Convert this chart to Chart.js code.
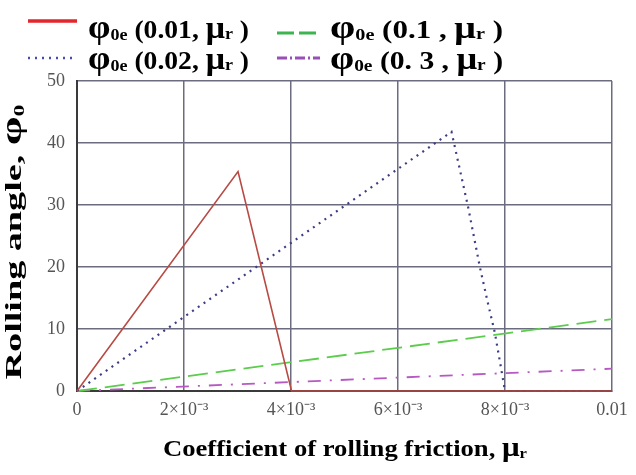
<!DOCTYPE html>
<html>
<head>
<meta charset="utf-8">
<script src="https://cdn.jsdelivr.net/npm/chart.js@4/dist/chart.umd.min.js"></script>
<style>
  html, body { margin: 0; padding: 0; background: #fff; }
  #wrap { width: 636px; height: 475px; position: relative; }
</style>
</head>
<body>
<div id="wrap"><canvas id="chart"></canvas></div>
<script>
// coefficient of rolling friction (x) and rolling angle (y) per curve
const mu001 = [0, 0.00301, 0.00401, 0.01];
const phi001 = [0, 35.4, 0, 0];

const mu002 = [0, 0.0070, 0.0072, 0.00731, 0.00753, 0.00768, 0.00781, 0.00791, 0.0080, 0.01];
const phi002 = [0, 41.8, 34.0, 29.7, 20.0, 14.2, 9.4, 4.5, 0, 0];

const mu01 = [0, 0.01];
const phi01 = [0, 11.6];

const mu03 = [0, 0.01];
const phi03 = [0, 3.6];

const xTicks = [0, 0.002, 0.004, 0.006, 0.008, 0.01];
const xTickLabels = ['0', '2×10⁻³', '4×10⁻³', '6×10⁻³', '8×10⁻³', '0.01'];
const yTicks = [0, 10, 20, 30, 40, 50];

const legendParams = ['0.01, ', '0.1 , ', '0.02, ', '0. 3 , '];

const SERIF = '"Liberation Serif", "Times New Roman", serif';

function pts(xs, ys) {
    return xs.map((x, i) => ({ x: x, y: ys[i] }));
}

// writes a run of text pieces (with subscripts) left to right
function drawRich(ctx, parts, x, y, sx) {
    ctx.save();
    ctx.translate(x, y);
    ctx.scale(sx, 1);
    ctx.textBaseline = 'alphabetic';
    ctx.textAlign = 'left';
    let cx = 0;
    for (const p of parts) {
        ctx.font = 'bold ' + p.size + 'px ' + SERIF;
        ctx.fillText(p.text, cx, p.dy || 0);
        cx += ctx.measureText(p.text).width;
    }
    ctx.restore();
}

function richWidth(ctx, parts) {
    let w = 0;
    for (const p of parts) {
        ctx.font = 'bold ' + p.size + 'px ' + SERIF;
        w += ctx.measureText(p.text).width;
    }
    return w;
}

function legendParts(param) {
    return [
        { text: 'φ', size: 34 },
        { text: '0e', size: 17, dy: 2 },
        { text: ' (' + param, size: 26 },
        { text: 'μ', size: 32 },
        { text: 'r', size: 17, dy: 1 },
        { text: ' )', size: 26 }
    ];
}

const titlesPlugin = {
    id: 'titles',
    afterDraw(chart) {
        const ctx = chart.ctx;
        ctx.save();
        ctx.fillStyle = '#000';

        // legend: sample line + label, two rows of two
        const entries = [
            { x0: 28, x1: 77, y: 21, color: '#e3262b', width: 3.5, dash: [], tx: 88, ty: 38, tw: 161 },
            { x0: 277, x1: 317, y: 33, color: '#3db44f', width: 3, dash: [17, 5], tx: 330, ty: 38, tw: 173 },
            { x0: 28, x1: 77, y: 58, color: '#4a4ab0', width: 2.5, dash: [2, 5], tx: 88, ty: 69, tw: 161 },
            { x0: 277, x1: 320, y: 58, color: '#9a4fb8', width: 3, dash: [10, 3, 2, 3], tx: 330, ty: 69, tw: 173 }
        ];
        entries.forEach((s, i) => {
            ctx.save();
            ctx.strokeStyle = s.color;
            ctx.lineWidth = s.width;
            ctx.setLineDash(s.dash);
            ctx.beginPath();
            ctx.moveTo(s.x0, s.y);
            ctx.lineTo(s.x1, s.y);
            ctx.stroke();
            ctx.restore();
            const parts = legendParts(legendParams[i]);
            drawRich(ctx, parts, s.tx, s.ty, s.tw / richWidth(ctx, parts));
        });

        // y axis title
        const yParts = [
            { text: 'Rolling angle, ', size: 24 },
            { text: 'φ', size: 29 },
            { text: '0', size: 15, dy: 3 }
        ];
        const yw = richWidth(ctx, yParts);
        const ysx = 275 / yw;
        ctx.save();
        ctx.translate(21, 242);
        ctx.rotate(-Math.PI / 2);
        drawRich(ctx, yParts, -yw * ysx / 2, 0, ysx);
        ctx.restore();

        // x axis title
        const xParts = [
            { text: 'Coefficient of rolling friction, ', size: 24 },
            { text: 'μ', size: 28 },
            { text: 'r', size: 15, dy: 2 }
        ];
        const xw = richWidth(ctx, xParts);
        const xsx = 364 / xw;
        drawRich(ctx, xParts, 345 - xw * xsx / 2, 456, xsx);

        ctx.restore();
    }
};

new Chart(document.getElementById('chart'), {
    type: 'line',
    data: {
        datasets: [
            {
                label: 'φ0e(0.01, μr)',
                data: pts(mu001, phi001),
                borderColor: '#b84a44',
                borderWidth: 1.6,
                pointRadius: 0,
                tension: 0,
                clip: 4
            },
            {
                label: 'φ0e(0.02, μr)',
                data: pts(mu002, phi002),
                borderColor: '#3d3d86',
                borderWidth: 2.2,
                borderDash: [2, 5],
                pointRadius: 0,
                tension: 0,
                clip: 4
            },
            {
                label: 'φ0e(0.1, μr)',
                data: pts(mu01, phi01),
                borderColor: '#5ccc4c',
                borderWidth: 1.8,
                borderDash: [20, 8],
                pointRadius: 0,
                tension: 0,
                clip: 4
            },
            {
                label: 'φ0e(0.3, μr)',
                data: pts(mu03, phi03),
                borderColor: '#b65ac2',
                borderWidth: 1.8,
                borderDash: [13, 9, 2, 9],
                pointRadius: 0,
                tension: 0,
                clip: 4
            }
        ]
    },
    options: {
        responsive: true,
        maintainAspectRatio: false,
        animation: false,
        layout: { padding: { left: 0, top: 81, right: 24, bottom: 0 } },
        plugins: {
            legend: { display: false },
            tooltip: { enabled: false }
        },
        scales: {
            x: {
                type: 'linear',
                min: 0,
                max: 0.01,
                afterBuildTicks(scale) {
                    scale.ticks = xTicks.map(v => ({ value: v }));
                },
                afterFit(scale) {
                    scale.height = 84;
                },
                ticks: {
                    padding: 8,
                    color: '#555',
                    font: { family: SERIF, size: 18 },
                    callback: (v) => {
                        const i = xTicks.findIndex(t => Math.abs(t - v) < 1e-9);
                        return i >= 0 ? xTickLabels[i] : '';
                    }
                },
                grid: { color: '#6c6c80', lineWidth: 1.5, drawTicks: false },
                border: { color: '#3a3a3a', width: 2 }
            },
            y: {
                min: 0,
                max: 50,
                afterBuildTicks(scale) {
                    scale.ticks = yTicks.map(v => ({ value: v }));
                },
                afterFit(scale) {
                    scale.width = 77;
                },
                ticks: {
                    padding: 12,
                    color: '#555',
                    font: { family: SERIF, size: 18 }
                },
                grid: { color: '#6c6c80', lineWidth: 1.5, drawTicks: false },
                border: { color: '#3a3a3a', width: 2 }
            }
        }
    },
    plugins: [titlesPlugin]
});
</script>
</body>
</html>
